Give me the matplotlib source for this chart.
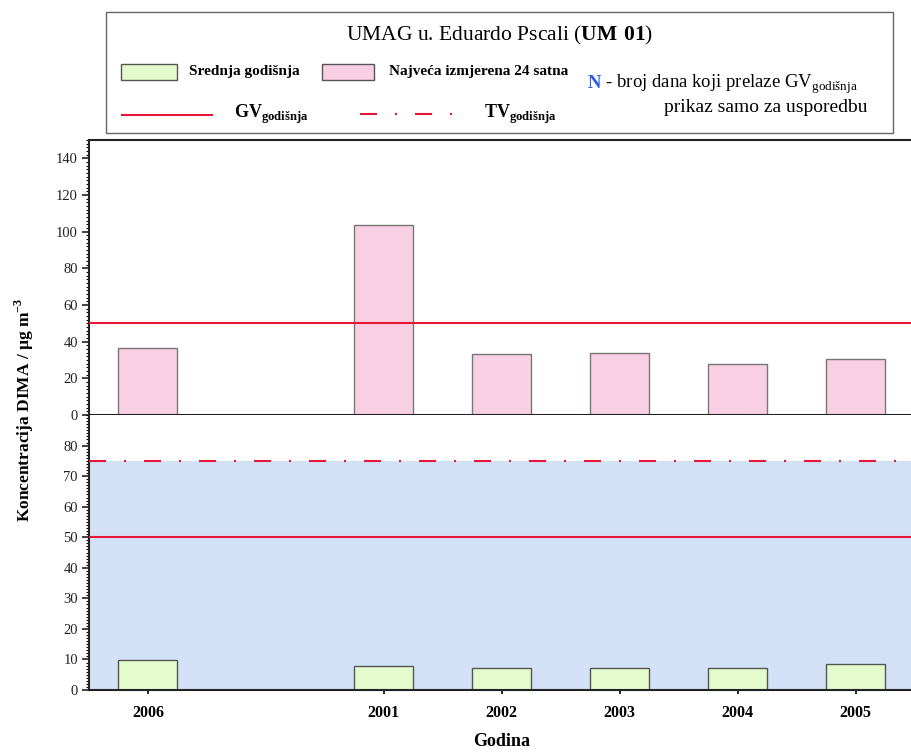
"""plot.py — UMAG u. Eduardo Pscali (UM 01): annual mean vs max 24h concentration."""
import matplotlib
matplotlib.use("Agg")
import matplotlib.pyplot as plt
from matplotlib.lines import Line2D
from matplotlib.patches import Rectangle
from matplotlib.ticker import AutoMinorLocator, MultipleLocator
import numpy as np

plt.rcParams["font.family"] = ["Liberation Serif", "DejaVu Serif"]
plt.rcParams["mathtext.fontset"] = "custom"
plt.rcParams["mathtext.rm"] = "Liberation Serif"
plt.rcParams["mathtext.bf"] = "Liberation Serif:bold"

YEARS = ["2006", "2001", "2002", "2003", "2004", "2005"]
MAX_24H = [36.3, 103.7, 33.4, 33.8, 27.7, 30.5]
ANNUAL_MEAN = [9.8, 7.8, 7.1, 7.1, 7.1, 8.5]
GV = 50
TV = 75

GREEN = "#e4fbce"
PINK = "#f9cfe4"
BLUE = "#d3e1f7"
RED = "#e8173a"
EDGE = "#555555"
TV_DASH = (8.2, 8.6, 1.0, 8.6)  # in linewidths -> ~55 px period

# 2006 sits first, then one empty slot before 2001
xpos = np.arange(len(YEARS)) + (np.arange(len(YEARS)) > 0)

fig = plt.figure(figsize=(9.11, 7.53), dpi=100)


def fx(px):
    return px / 911


def fy(py):
    return 1 - py / 753


L, R = fx(89), 1.0
ax1 = fig.add_axes([L, fy(415), R - L, fy(140) - fy(415)])
ax2 = fig.add_axes([L, fy(690), R - L, fy(415) - fy(690)])

# ---- top: max 24h ----
ax1.bar(xpos, MAX_24H, width=0.5, color=PINK, edgecolor="#777777", lw=1, zorder=2)
ax1.axhline(GV, color=RED, lw=1.5, zorder=3)
ax1.set_ylim(0, 150)
ax1.yaxis.set_major_locator(MultipleLocator(20))
ax1.yaxis.set_minor_locator(AutoMinorLocator(10))
ax1.set_xticks(xpos)
ax1.set_xticklabels([])

# ---- bottom: annual mean ----
ax2.axhspan(0, TV, color=BLUE, lw=0, zorder=0)
ax2.bar(xpos, ANNUAL_MEAN, width=0.5, color=GREEN, edgecolor=EDGE, lw=1, zorder=2)
ax2.axhline(GV, color=RED, lw=1.5, zorder=3)
ax2.axhline(TV, color=RED, lw=1.5, dashes=TV_DASH, zorder=3)
ax2.set_ylim(0, 90)
ax2.set_yticks(np.arange(0, 81, 10))
ax2.yaxis.set_minor_locator(AutoMinorLocator(10))
ax2.set_xticks(xpos)
ax2.set_xticklabels(YEARS, fontsize=11.5, fontweight="bold")

for ax in (ax1, ax2):
    ax.set_xlim(-0.5, 6.47)
    ax.spines["right"].set_visible(False)
    for s in ("left", "bottom", "top"):
        ax.spines[s].set_color("#222222")
        ax.spines[s].set_linewidth(1.5)
    ax.tick_params(axis="y", which="major", length=5, width=1.2, labelsize=10.5,
                   colors="#222222", pad=3)
    ax.tick_params(axis="y", which="minor", length=2.5, width=0.8)
    ax.tick_params(axis="x", length=3, width=1.2, pad=8)
ax2.spines["top"].set_visible(False)

fig.text(fx(24), fy(410), r"Koncentracija DIMA / µg m$^{\mathbf{-3}}$",
         rotation=90, ha="center", va="center", fontsize=12.5, fontweight="bold")
fig.text(fx(502), fy(742), "Godina", ha="center", va="center", fontsize=13,
         fontweight="bold")

# ---- legend box ----
fig.add_artist(Rectangle((fx(106), fy(133)), fx(893) - fx(106), fy(12) - fy(133),
                         transform=fig.transFigure, fill=False, ec="#666666", lw=1))
fig.text(fx(500), fy(35), r"UMAG u. Eduardo Pscali ($\mathbf{UM\ 01}$)",
         ha="center", va="center", fontsize=15.5)

fig.add_artist(Rectangle((fx(121), fy(80)), fx(56), fy(0) - fy(16), transform=fig.transFigure,
                         fc=GREEN, ec=EDGE, lw=1))
fig.text(fx(189), fy(72), "Srednja godišnja", ha="left", va="center", fontsize=11,
         fontweight="bold")
fig.add_artist(Rectangle((fx(322), fy(80)), fx(52), fy(0) - fy(16), transform=fig.transFigure,
                         fc=PINK, ec=EDGE, lw=1))
fig.text(fx(389), fy(72), "Najveća izmjerena 24 satna", ha="left", va="center", fontsize=11,
         fontweight="bold")

fig.add_artist(Line2D([fx(122), fx(212)], [fy(115), fy(115)], color=RED, lw=1.5,
                      transform=fig.transFigure))
fig.text(fx(234), fy(114), r"$\mathbf{GV}_{\mathbf{godišnja}}$", ha="left", va="center",
         fontsize=13)
fig.add_artist(Line2D([fx(360), fx(453)], [fy(114), fy(114)], color=RED, lw=1.5,
                      dashes=TV_DASH, transform=fig.transFigure))
fig.text(fx(484), fy(114), r"$\mathbf{TV}_{\mathbf{godišnja}}$", ha="left", va="center",
         fontsize=13)

fig.text(fx(588), fy(84), "N", ha="left", va="center", fontsize=13.5, fontweight="bold",
         color="#2a5ce6")
fig.text(fx(601), fy(84), r" - broj dana koji prelaze GV$_{\mathrm{godišnja}}$", ha="left",
         va="center", fontsize=13.5)
fig.text(fx(867), fy(108), "prikaz samo za usporedbu", ha="right", va="center",
         fontsize=14)

fig.savefig("out.png", dpi=100)
